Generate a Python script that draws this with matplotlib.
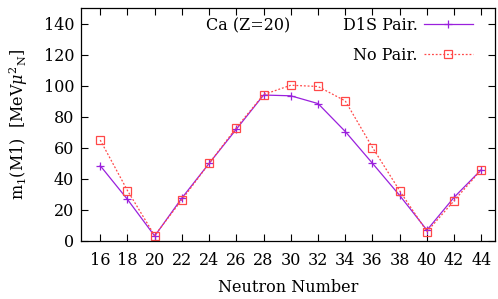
import matplotlib.pyplot as plt
import numpy as np

plt.rcParams['font.family'] = 'DejaVu Serif'
plt.rcParams['mathtext.fontset'] = 'dejavuserif'

neutrons = [16, 18, 20, 22, 24, 26, 28, 30, 32, 34, 36, 38, 40, 42, 44]
d1s_pair = [48.5, 26.8, 3.2, 27.7, 50, 72, 94, 93.5, 88.5, 70.5, 50, 29.3, 7, 28.2, 46]
no_pair = [65, 32.5, 3.5, 26.6, 50, 73, 94.3, 100.3, 99.5, 90.2, 60.2, 32.3, 6, 26, 46]

fig = plt.figure(figsize=(4.98, 2.99), dpi=100)
ax = fig.add_axes([0.163, 0.194, 0.831, 0.779])

ax.plot(neutrons, d1s_pair, color='#9a20dd', lw=0.9, marker='+', ms=6, mew=0.9,
        label='D1S Pair.')
ax.plot(neutrons, no_pair, color='#ff4848', lw=0.9, ls=(0, (1.5, 1.5)), marker='s',
        ms=6, mfc='none', mew=0.9, label='No Pair.')

ax.set_xlim(14.6, 45)
ax.set_ylim(0, 150)
ax.set_xticks(np.arange(16, 45, 2))
ax.set_yticks(np.arange(0, 141, 20))
ax.tick_params(direction='in', top=True, right=True, length=5, labelsize=11.5)
ax.tick_params(axis='x', pad=8)
ax.tick_params(axis='y', pad=5)
for s in ax.spines.values():
    s.set_linewidth(0.9)

ax.set_xlabel('Neutron Number', fontsize=11.5, labelpad=7)
ax.set_ylabel(r'm$_1$(M1)  [MeV$\mu^{2}{}_{\mathrm{N}}$]', fontsize=11.5, labelpad=10)

ax.text(26.9, 138.3, 'Ca (Z=20)', ha='center', va='center', fontsize=11.5)
ax.legend(loc='upper right', frameon=False, markerfirst=False, fontsize=11.5,
          handlelength=3.1, handletextpad=0.35, borderaxespad=0, borderpad=0,
          labelspacing=0.8, bbox_to_anchor=(0.947, 0.962))

fig.savefig('out.png', dpi=100)
